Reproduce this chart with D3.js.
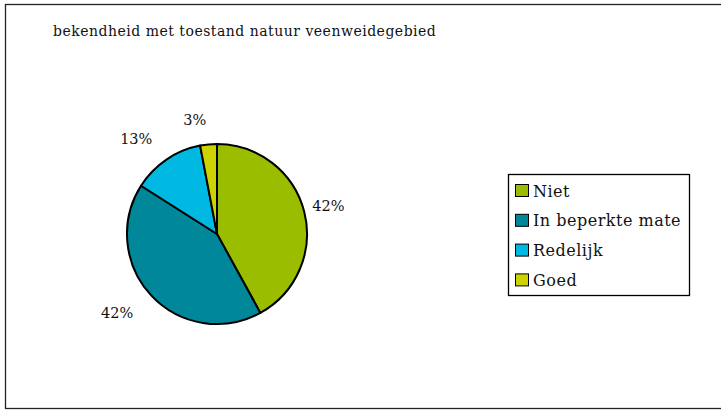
<!DOCTYPE html>
<html>
<head>
<meta charset="utf-8">
<script src="https://cdnjs.cloudflare.com/ajax/libs/d3/7.8.5/d3.min.js"></script>
<style>
  body { margin: 0; background: #fff; }
  text { font-family: "DejaVu Serif", serif; fill: #111; }
</style>
</head>
<body>
<div id="chart"></div>
<script>
  // chart data
  var categories = ["Niet", "In beperkte mate", "Redelijk", "Goed"];
  var values = [42, 42, 13, 3];
  var labels = ["42%", "42%", "13%", "3%"];
  var colors = ["#9bbd00", "#00879a", "#00b9e3", "#ccd300"];
  var title = "bekendheid met toestand natuur veenweidegebied";

  var width = 721, height = 410;
  var svg = d3.select("#chart").append("svg")
    .attr("width", width)
    .attr("height", height);

  // outer frame (right edge runs off the picture)
  svg.append("rect")
    .attr("x", 5.5).attr("y", 4.5)
    .attr("width", 730).attr("height", 404)
    .attr("fill", "#fff")
    .attr("stroke", "#222").attr("stroke-width", 1.3);

  svg.append("text")
    .attr("x", 53).attr("y", 36)
    .style("font-size", "14px")
    .style("letter-spacing", "0.5px")
    .text(title);

  // pie
  var cx = 217, cy = 234, r = 90;
  var pie = d3.pie().sort(null).value(function (d) { return d; });
  var arc = d3.arc().innerRadius(0).outerRadius(r);
  var arcs = pie(values);

  var g = svg.append("g").attr("transform", "translate(" + cx + "," + cy + ")");
  g.selectAll("path")
    .data(arcs)
    .enter()
    .append("path")
    .attr("d", arc)
    .attr("fill", function (d, i) { return colors[i]; })
    .attr("stroke", "#000")
    .attr("stroke-width", 2)
    .attr("stroke-linejoin", "round");

  // data labels outside the pie
  var labelR = 115;
  g.selectAll("text.lbl")
    .data(arcs)
    .enter()
    .append("text")
    .attr("class", "lbl")
    .attr("x", function (d) { var a = (d.startAngle + d.endAngle) / 2; return Math.sin(a) * labelR; })
    .attr("y", function (d) { var a = (d.startAngle + d.endAngle) / 2; return -Math.cos(a) * labelR; })
    .attr("dy", "0.36em")
    .attr("text-anchor", function (d) {
      var a = (d.startAngle + d.endAngle) / 2;
      return a > Math.PI ? "end" : "middle";
    })
    .style("font-size", "14.5px")
    .text(function (d, i) { return labels[i]; });

  // legend
  var lx = 508, ly = 174, lw = 181, lh = 121, rowH = 29.8;
  var legend = svg.append("g").attr("transform", "translate(" + lx + "," + ly + ")");
  legend.append("rect")
    .attr("x", 0.5).attr("y", 0.5)
    .attr("width", lw).attr("height", lh)
    .attr("fill", "#fff")
    .attr("stroke", "#000").attr("stroke-width", 1.3);

  var items = legend.selectAll("g.item")
    .data(categories)
    .enter()
    .append("g")
    .attr("class", "item")
    .attr("transform", function (d, i) { return "translate(7," + (10 + i * rowH) + ")"; });
  items.append("rect")
    .attr("x", 0.5).attr("y", 0.5)
    .attr("width", 13).attr("height", 12)
    .attr("fill", function (d, i) { return colors[i]; })
    .attr("stroke", "#000").attr("stroke-width", 1);
  items.append("text")
    .attr("x", 18).attr("y", 12.5)
    .style("font-size", "16px")
    .style("letter-spacing", "0.5px")
    .text(function (d) { return d; });
</script>
</body>
</html>
